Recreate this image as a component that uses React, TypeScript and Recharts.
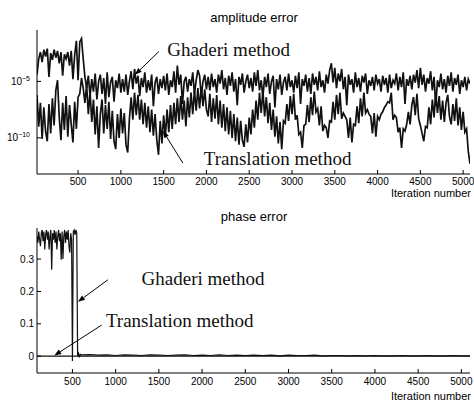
import React from "react";
import { LineChart, Line, XAxis, YAxis, ReferenceLine, ReferenceDot } from "recharts";

const SANS = '"Liberation Sans", Arial, Helvetica, sans-serif';
const SERIF = '"Liberation Serif", "Times New Roman", serif';

const X_TICKS = [500, 1000, 1500, 2000, 2500, 3000, 3500, 4000, 4500, 5000];
const AMP_TICKS = [-10, -5];
const PHASE_TICKS = [0, 0.1, 0.2, 0.3];

// amplitude error, stored as log10 values, one every 20 iterations from 20
const AMP_START = 20;
const AMP_STEP = 20;
const ampGhaderi = [
  -4.4, -3.0, -2.4, -3.3, -2.2, -2.8, -2.1, -4.6, -2.5, -3.1, -2.2, -2.9, -2.3, -3.4, -2.4, -4.5, -2.6, -3.0, -2.4, -3.6, -2.3, -4.8, -2.7, -1.4, -4.9,
  -1.5, -1.2, -3.0, -4.6, -5.6, -4.5, -6.3, -4.8, -5.9, -4.3, -6.6, -5.0, -4.4, -6.1, -4.7, -7.0, -4.2, -6.4, -5.1, -4.6, -6.8, -4.9, -5.6, -4.3, -6.0,
  -4.8, -5.9, -4.4, -6.2, -5.0, -4.1, -5.7, -3.9, -5.2, -4.5, -6.3, -4.7, -5.5, -4.2, -6.0, -4.9, -5.8, -4.4, -7.2, -5.1, -4.6, -6.1, -4.8, -5.6, -4.5,
  -5.8, -4.3, -6.2, -4.9, -5.5, -4.1, -6.0, -3.6, -5.3, -4.4, -7.0, -5.0, -4.6, -5.9, -4.8, -5.4, -4.2, -6.1, -4.9, -4.0, -4.5, -6.3, -5.0, -4.4, -5.7,
  -4.6, -5.8, -4.3, -5.5, -4.8, -6.0, -4.4, -5.2, -4.0, -5.7, -4.7, -6.2, -4.5, -5.4, -4.2, -5.9, -4.8, -7.1, -4.6, -5.3, -4.3, -6.0, -5.0, -4.4, -5.6,
  -4.7, -5.9, -4.2, -5.4, -4.0, -5.8, -4.9, -6.4, -4.6, -5.5, -4.3, -6.1, -5.0, -4.5, -7.3, -4.8, -5.7, -4.4, -6.2, -5.1, -4.6, -5.8, -4.3, -5.5, -4.9,
  -6.0, -4.5, -5.6, -4.2, -7.0, -4.8, -5.4, -4.4, -5.9, -4.7, -6.1, -4.3, -5.3, -4.6, -5.8, -4.1, -5.5, -4.9, -6.0, -4.4, -5.2, -4.0, -3.4, -5.1, -3.8,
  -5.6, -4.3, -5.0, -3.9, -5.7, -4.6, -7.1, -4.4, -5.3, -4.8, -6.0, -4.2, -5.5, -4.7, -5.9, -4.5, -5.1, -4.3, -6.1, -4.9, -5.4, -4.6, -5.8, -4.4, -5.2,
  -4.8, -5.9, -4.5, -5.3, -4.7, -6.0, -4.4, -5.6, -4.9, -5.2, -4.3, -5.8, -4.6, -5.5, -4.2, -7.0, -4.8, -5.4, -4.5, -5.7, -4.4, -5.1, -4.0, -5.6, -3.8,
  -5.3, -4.4, -5.9, -4.7, -5.2, -4.1, -5.8, -4.6, -7.2, -4.9, -5.5, -4.3, -5.7, -4.8, -6.0, -4.5, -5.4, -4.2, -5.9, -4.7, -5.3, -4.4, -6.1, -4.9, -5.5,
  -4.6, -5.8, -4.8, -5.2,
];
const ampTranslation = [
  -6.2, -9.0, -6.9, -10.1, -7.3, -9.4, -10.3, -7.0, -9.6, -6.5, -8.9, -5.8, -4.9, -8.2, -10.2, -6.9, -9.3, -6.3, -9.9, -7.1, -8.8, -10.4, -6.8, -9.2, -6.4,
  -6.1, -4.7, -5.6, -6.9, -5.3, -7.9, -5.9, -8.6, -6.6, -9.7, -7.2, -10.9, -7.9, -6.6, -9.6, -7.1, -9.2, -6.8, -10.1, -7.6, -10.3, -11.0, -7.9, -10.0, -7.4,
  -9.6, -7.8, -10.6, -11.3, -8.3, -6.4, -8.4, -6.0, -8.0, -6.2, -8.4, -6.6, -8.8, -6.9, -9.1, -7.2, -9.5, -7.5, -9.8, -7.9, -10.2, -11.5, -8.5, -10.5, -8.0,
  -9.9, -7.5, -9.5, -7.1, -9.2, -6.9, -8.8, -6.5, -8.6, -6.3, -8.4, -6.7, -9.0, -6.4, -8.2, -6.0, -7.9, -5.8, -7.6, -5.6, -7.4, -5.5, -7.2, -5.7, -7.5,
  -8.1, -6.1, -8.6, -6.5, -8.3, -6.2, -8.8, -6.7, -9.1, -7.0, -9.4, -7.3, -9.7, -7.6, -10.0, -7.9, -10.3, -8.2, -10.6, -8.5, -10.2, -10.8, -8.8, -10.4, -8.2,
  -9.7, -7.5, -9.1, -6.7, -8.4, -6.0, -7.8, -5.8, -8.1, -6.4, -8.7, -6.9, -9.3, -7.5, -9.9, -8.1, -10.5, -8.6, -11.0, -8.5, -8.7, -7.0, -8.5, -6.3, -7.9,
  -6.1, -8.4, -8.0, -9.7, -9.5, -10.9, -8.9, -8.8, -7.1, -8.6, -6.4, -8.0, -5.9, -7.7, -7.4, -8.9, -7.2, -9.4, -8.9, -9.1, -10.0, -8.5, -8.6, -6.8, -8.4,
  -6.2, -7.9, -6.0, -8.3, -7.8, -8.1, -8.4, -10.0, -8.2, -10.4, -8.8, -8.9, -7.2, -8.7, -6.5, -8.1, -6.0, -7.8, -7.5, -7.9, -8.1, -9.6, -7.8, -9.9, -8.1,
  -8.4, -7.9, -7.7, -7.3, -7.1, -6.8, -6.9, -6.0, -8.4, -8.0, -8.2, -9.5, -9.1, -10.9, -9.2, -9.4, -8.8, -7.7, -8.8, -7.1, -6.4, -8.0, -6.1, -8.3, -8.9,
  -9.6, -10.3, -9.0, -9.1, -7.3, -8.8, -6.6, -8.2, -6.0, -7.8, -6.3, -8.4, -6.7, -8.6, -6.9, -6.2, -8.1, -8.8, -7.0, -8.5, -6.5, -8.9, -7.3, -9.3, -7.7,
  -9.5, -9.2, -11.2, -12.3,
];

// phase error: dense start (every 10 iterations from 90), sparse tail (every 100 from 700)
const PHASE_EARLY_START = 90;
const PHASE_EARLY_STEP = 10;
const phaseGhaderiEarly = [
  0.37, 0.35, 0.385, 0.36, 0.34, 0.38, 0.39, 0.355, 0.385, 0.33,
  0.375, 0.39, 0.36, 0.385, 0.33, 0.37, 0.39, 0.267, 0.38, 0.36,
  0.39, 0.35, 0.385, 0.33, 0.37, 0.39, 0.355, 0.38, 0.298, 0.385,
  0.3, 0.37, 0.39, 0.35, 0.385, 0.36, 0.39, 0.34, 0.32, 0.38,
  0.36, -0.015, 0.385, 0.39, 0.375, 0.39, 0.38, 0.0, 0.008, -0.004,
  0.006, 0.004,
];
const PHASE_LATE_START = 700;
const PHASE_LATE_STEP = 100;
const phaseGhaderiLate = [
  0.005, 0.003, 0.004, 0.002, 0.004, 0.003, 0.002, 0.004, 0.003, 0.002,
  0.003, 0.004, 0.002, 0.003, 0.002, 0.004, 0.002, 0.003, 0.002, 0.003,
  0.002, 0.003, 0.001, 0.003, 0.002, 0.002, 0.003, 0.001, 0.002, 0.002,
  0.001, 0.002, 0.001, 0.002, 0.001, 0.001, 0.002, 0.001, 0.001, 0.002,
  0.001, 0.001, 0.002, 0.001, 0.001,
];
const phaseTranslationIter = [90, 5100];
const phaseTranslation = [0, 0];

const ampGhaderiData = ampGhaderi.map((v, i) => ({ iter: AMP_START + i * AMP_STEP, v }));
const ampTranslationData = ampTranslation.map((v, i) => ({ iter: AMP_START + i * AMP_STEP, v }));
const phaseGhaderiData = [
  ...phaseGhaderiEarly.map((v, i) => ({ iter: PHASE_EARLY_START + i * PHASE_EARLY_STEP, v })),
  ...phaseGhaderiLate.map((v, i) => ({ iter: PHASE_LATE_START + i * PHASE_LATE_STEP, v })),
];
const phaseTranslationData = phaseTranslation.map((v, i) => ({ iter: phaseTranslationIter[i], v }));

function AmpTick(props: any) {
  const { x, y, payload } = props;
  const exp = String(payload.value).replace("-", "\u2212");
  return (
    <text x={x} y={y} dy="0.35em" textAnchor="end" fontFamily={SANS} fontSize={10} fill="#000">
      <tspan>10</tspan>
      <tspan dy={-4} fontSize={7}>{exp}</tspan>
    </text>
  );
}

function Arrow(props: any) {
  const { x1, y1, x2, y2 } = props;
  const a = Math.atan2(y2 - y1, x2 - x1);
  const L = 7;
  const W = 2.6;
  const bx = x2 - L * Math.cos(a);
  const by = y2 - L * Math.sin(a);
  const pts = `${x2},${y2} ${bx - W * Math.sin(a)},${by + W * Math.cos(a)} ${bx + W * Math.sin(a)},${by - W * Math.cos(a)}`;
  return (
    <g>
      <line x1={x1} y1={y1} x2={bx} y2={by} stroke="#000" strokeWidth={1} />
      <polygon points={pts} fill="#000" />
    </g>
  );
}

const note = (text: string) => (props: any) => (
  <text x={props.cx} y={props.cy} fontFamily={SERIF} fontSize={19} fill="#111">
    {text}
  </text>
);

const tickStyle = { fontSize: 10, fill: "#000", fontFamily: SANS };
const axisLabel = { position: "absolute" as const, left: 0, width: 471, textAlign: "right" as const, fontFamily: SANS, fontSize: 11, lineHeight: "11px" };
const title = { position: "absolute" as const, left: 37, width: 434, textAlign: "center" as const, fontFamily: SANS, fontSize: 13, lineHeight: "16px" };

export default function App() {
  return (
    <div style={{ position: "absolute", left: 0, top: 0, width: 474, height: 401, background: "#fff" }}>
      <div style={{ ...title, top: 10 }}>amplitude error</div>
      <div style={{ position: "absolute", left: 0, top: 0 }}>
        <LineChart width={474} height={200} margin={{ top: 30, right: 4, bottom: 0, left: 0 }}>
          <XAxis dataKey="iter" type="number" domain={[20, 5080]} ticks={X_TICKS} interval={0} allowDataOverflow
            height={26} tickSize={-4} tickMargin={8} stroke="#000" tick={tickStyle} />
          <XAxis xAxisId="t" orientation="top" dataKey="iter" type="number" domain={[20, 5080]} ticks={X_TICKS} interval={0}
            allowDataOverflow height={0} tickSize={-4} tick={false} stroke="#000" />
          <YAxis type="number" domain={[-13.2, -0.45]} ticks={AMP_TICKS} interval={0} allowDataOverflow width={37}
            tickSize={-4} tickMargin={11} stroke="#000" tick={<AmpTick />} />
          <YAxis yAxisId="r" orientation="right" type="number" domain={[-13.2, -0.45]} ticks={AMP_TICKS} interval={0}
            allowDataOverflow width={0} tickSize={-4} tick={false} stroke="#000" />
          <Line data={ampTranslationData} dataKey="v" stroke="#111" strokeWidth={1.7} dot={false} isAnimationActive={false} />
          <Line data={ampGhaderiData} dataKey="v" stroke="#111" strokeWidth={1.7} dot={false} isAnimationActive={false} />
          <ReferenceLine segment={[{ x: 1444, y: -2.36 }, { x: 1164, y: -4.41 }]} shape={<Arrow />} />
          <ReferenceLine segment={[{ x: 1724, y: -12.23 }, { x: 1491, y: -9.38 }]} shape={<Arrow />} />
          <ReferenceDot x={1541} y={-2.78} r={0} shape={note("Ghaderi method")} />
          <ReferenceDot x={1969} y={-12.41} r={0} shape={note("Translation method")} />
        </LineChart>
      </div>
      <div style={{ ...axisLabel, top: 188 }}>Iteration number</div>

      <div style={{ ...title, top: 209 }}>phase error</div>
      <div style={{ position: "absolute", left: 0, top: 200 }}>
        <LineChart width={474} height={201} margin={{ top: 28, right: 4, bottom: 0, left: 0 }}>
          <XAxis dataKey="iter" type="number" domain={[90, 5100]} ticks={X_TICKS} interval={0} allowDataOverflow
            height={28} tickSize={-4} tickMargin={9} stroke="#000" tick={tickStyle} />
          <XAxis xAxisId="t" orientation="top" dataKey="iter" type="number" domain={[90, 5100]} ticks={X_TICKS} interval={0}
            allowDataOverflow height={0} tickSize={-4} tick={false} stroke="#000" />
          <YAxis type="number" domain={[-0.052, 0.396]} ticks={PHASE_TICKS} interval={0} allowDataOverflow width={37}
            tickSize={-4} tickMargin={7} stroke="#000" tick={tickStyle} />
          <YAxis yAxisId="r" orientation="right" type="number" domain={[-0.052, 0.396]} ticks={PHASE_TICKS} interval={0}
            allowDataOverflow width={0} tickSize={-4} tick={false} stroke="#000" />
          <Line data={phaseTranslationData} dataKey="v" stroke="#111" strokeWidth={1.2} dot={false} isAnimationActive={false} />
          <Line data={phaseGhaderiData} dataKey="v" stroke="#111" strokeWidth={1.2} dot={false} isAnimationActive={false} />
          <ReferenceLine segment={[{ x: 910, y: 0.236 }, { x: 564, y: 0.168 }]} shape={<Arrow />} />
          <ReferenceLine segment={[{ x: 838, y: 0.096 }, { x: 290, y: 0.002 }]} shape={<Arrow />} />
          <ReferenceDot x={1300} y={0.22} r={0} shape={note("Ghaderi method")} />
          <ReferenceDot x={887} y={0.089} r={0} shape={note("Translation method")} />
        </LineChart>
      </div>
      <div style={{ ...axisLabel, top: 391 }}>Iteration number</div>
    </div>
  );
}
